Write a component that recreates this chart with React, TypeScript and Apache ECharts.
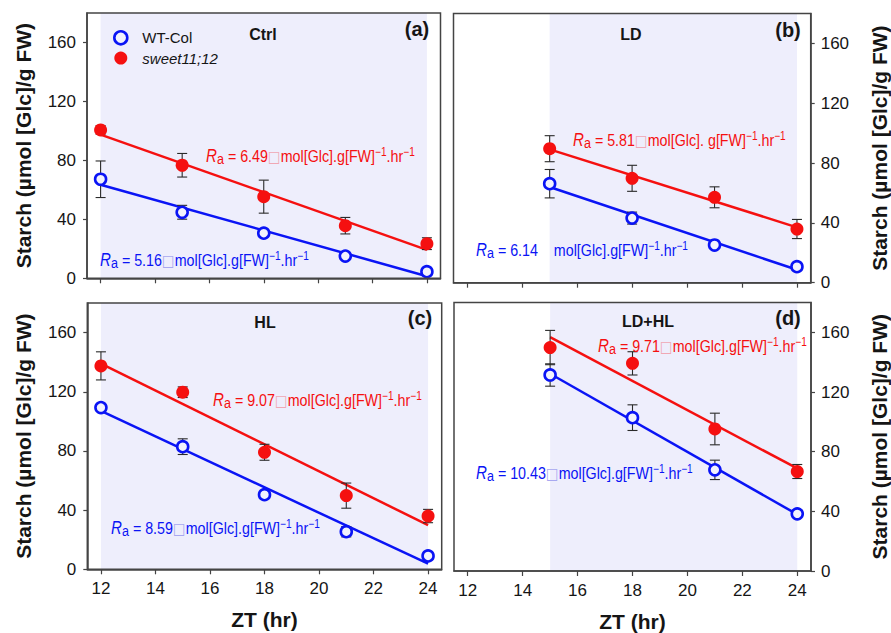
import React, { useEffect, useRef } from "react";
import * as echarts from "echarts";

// Sampling times (ZT, hours)
const ZT_FULL = [12, 15, 18, 21, 24];
const ZT_LATE = [15, 18, 21, 24];
const X_TICKS = [12, 14, 16, 18, 20, 22, 24];
const Y_TICKS = [0, 40, 80, 120, 160];

// Ctrl
const ctrlWt = [67.2, 44.8, 30.6, 15.1, 4.5];
const ctrlWtErr = [12.4, 4.7, 2.0, 2.0, 1.5];
const ctrlSweet = [100.7, 76.7, 55.4, 35.7, 23.5];
const ctrlSweetErr = [2.9, 8.0, 11.2, 5.6, 4.0];
// LD
const ldWt = [66.2, 43.2, 25.2, 10.7];
const ldWtErr = [9.5, 4.0, 1.5, 1.0];
const ldSweet = [89.6, 69.8, 57.1, 35.9];
const ldSweetErr = [8.7, 8.7, 7.0, 6.4];
// HL
const hlWt = [109.3, 82.9, 50.4, 25.4, 9.0];
const hlWtErr = [2.0, 5.3, 2.0, 3.5, 1.0];
const hlSweet = [137.5, 119.7, 79.1, 49.8, 36.0];
const hlSweetErr = [9.5, 3.6, 5.4, 8.5, 4.5];
// LD+HL
const ldhlWt = [131.4, 102.8, 67.8, 38.3];
const ldhlWtErr = [7.5, 8.6, 6.5, 2.0];
const ldhlSweet = [149.8, 139.2, 95.2, 66.7];
const ldhlSweetErr = [11.5, 7.8, 10.6, 4.7];

const PANEL_TITLES = ["Ctrl", "LD", "HL", "LD+HL"];
const PANEL_TAGS = ["(a)", "(b)", "(c)", "(d)"];
const RA_WT = ["5.16", "6.14", "8.59", "10.43"];
const RA_SWEET = ["6.49", "5.81", "9.07", "9.71"];

const WT_NAME = "WT-Col";
const SWEET_NAME = "sweet11;12";
const Y_NAME = "Starch (µmol [Glc]/g FW)";
const X_NAME = "ZT (hr)";

const FONT = "'Liberation Sans', Arial, Helvetica, sans-serif";
const BLUE = "#0a14f5";
const RED = "#f51010";
const SHADE = "#eeeefc";
const AXIS = "#444";
const INK = "#151515";

const panels = [
  { zt: ZT_FULL, wt: ctrlWt, wtErr: ctrlWtErr, sw: ctrlSweet, swErr: ctrlSweetErr },
  { zt: ZT_LATE, wt: ldWt, wtErr: ldWtErr, sw: ldSweet, swErr: ldSweetErr },
  { zt: ZT_FULL, wt: hlWt, wtErr: hlWtErr, sw: hlSweet, swErr: hlSweetErr },
  { zt: ZT_LATE, wt: ldhlWt, wtErr: ldhlWtErr, sw: ldhlSweet, swErr: ldhlSweetErr },
];

const grids = [
  { left: 87, top: 13, width: 353.5, height: 265.3 },
  { left: 453.5, top: 13.5, width: 357.2, height: 269.2 },
  { left: 87.3, top: 303, width: 354.4, height: 266.3 },
  { left: 454, top: 302.5, width: 357, height: 268.5 },
];

// Least-squares line through the points, evaluated at the first and last time
function fitLine(xs: number[], ys: number[]) {
  const n = xs.length;
  const mx = xs.reduce((a, b) => a + b, 0) / n;
  const my = ys.reduce((a, b) => a + b, 0) / n;
  let sxy = 0;
  let sxx = 0;
  for (let i = 0; i < n; i++) {
    sxy += (xs[i] - mx) * (ys[i] - my);
    sxx += (xs[i] - mx) * (xs[i] - mx);
  }
  const slope = sxy / sxx;
  const x0 = xs[0];
  const x1 = xs[n - 1];
  return [
    [x0, my + slope * (x0 - mx)],
    [x1, my + slope * (x1 - mx)],
  ];
}

function errorBarItem(_params: any, api: any) {
  const x = api.value(0);
  const top = api.coord([x, api.value(2)]);
  const bot = api.coord([x, api.value(1)]);
  const hw = 5;
  const style = { stroke: "#2a2a2a", lineWidth: 1.1 };
  return {
    type: "group",
    children: [
      { type: "line", shape: { x1: top[0], y1: top[1], x2: bot[0], y2: bot[1] }, style },
      { type: "line", shape: { x1: top[0] - hw, y1: top[1], x2: top[0] + hw, y2: top[1] }, style },
      { type: "line", shape: { x1: bot[0] - hw, y1: bot[1], x2: bot[0] + hw, y2: bot[1] }, style },
    ],
  };
}

function raRich(color: string, boxColor: string) {
  return {
    t: { fill: color, fontSize: 17, fontFamily: FONT, lineHeight: 20 },
    R: { fill: color, fontSize: 18, fontStyle: "italic", fontFamily: FONT, lineHeight: 20 },
    s: { fill: color, fontSize: 15, fontFamily: FONT, lineHeight: 4, verticalAlign: "bottom" },
    p: { fill: color, fontSize: 12, fontFamily: FONT, lineHeight: 4, verticalAlign: "top" },
    b: { fill: boxColor, fontSize: 16, fontFamily: "'DejaVu Sans', sans-serif", lineHeight: 20 },
  };
}

function raText(value: string, unitSep: string, showBox: boolean) {
  const gap = showBox ? "{b|□}" : "{t|    }";
  return `{R|R}{s|a}{t| = ${value}}${gap}{t|mol[Glc].${unitSep}g[FW]}{p|−1}{t|.hr}{p|−1}`;
}

// Annotation anchors: [x, y] of the left/middle of each rate label
const RA_SWEET_POS = [
  [206, 156],
  [573, 140],
  [213, 400],
  [598, 346],
];
const RA_WT_POS = [
  [100, 260],
  [476, 250],
  [111, 528],
  [476, 473],
];
const TITLE_POS = [
  [263, 34],
  [631, 34],
  [265, 322],
  [648, 321],
];
const TAG_POS = [
  [417, 29],
  [788, 30],
  [420, 318],
  [788, 318],
];

export default function App() {
  const ref = useRef<HTMLDivElement>(null);

  useEffect(() => {
    if (!ref.current) return;
    const chart = echarts.init(ref.current, null, { renderer: "svg" });

    const xAxis = panels.map((_, i) => {
      const bottomRow = i >= 2;
      return {
        type: "value",
        gridIndex: i,
        min: 11.5,
        max: 24.5,
        z: 10,
        axisLine: { show: true, lineStyle: { color: AXIS, width: 1.5 } },
        axisTick: { show: true, length: 5, customValues: X_TICKS, lineStyle: { color: AXIS, width: 1.2 } },
        axisLabel: {
          show: bottomRow,
          customValues: X_TICKS,
          fontSize: 17,
          fontFamily: FONT,
          color: INK,
          margin: 11,
        },
        splitLine: { show: false },
        name: bottomRow ? X_NAME : "",
        nameLocation: "middle",
        nameGap: 40,
        nameTextStyle: { fontSize: 21, fontWeight: "bold", fontFamily: FONT, color: INK },
      };
    });

    const yAxis = panels.map((_, i) => {
      const right = i % 2 === 1;
      return {
        type: "value",
        gridIndex: i,
        min: 0,
        max: 180,
        position: right ? "right" : "left",
        z: 10,
        axisLine: { show: true, lineStyle: { color: AXIS, width: 1.5 } },
        axisTick: { show: true, length: 4, customValues: Y_TICKS, lineStyle: { color: AXIS, width: 1.2 } },
        axisLabel: {
          customValues: Y_TICKS,
          fontSize: 17,
          fontFamily: FONT,
          color: INK,
          margin: right ? 10 : 11,
        },
        splitLine: { show: false },
        name: Y_NAME,
        nameLocation: "middle",
        nameRotate: 90,
        nameGap: right ? 58 : 53,
        nameTextStyle: { fontSize: 21, fontWeight: "bold", fontFamily: FONT, color: INK },
      };
    });

    const series: any[] = [];
    panels.forEach((p, i) => {
      const first = p.zt[0];
      const last = p.zt[p.zt.length - 1];
      // Light-period shading and fitted lines
      series.push({
        type: "line",
        name: SWEET_NAME,
        xAxisIndex: i,
        yAxisIndex: i,
        data: fitLine(p.zt, p.sw),
        showSymbol: false,
        symbol: "none",
        lineStyle: { color: RED, width: 2.5 },
        z: 2,
        markArea: {
          silent: true,
          itemStyle: { color: SHADE },
          data: [[{ xAxis: first }, { xAxis: last }]],
        },
      });
      series.push({
        type: "line",
        name: WT_NAME,
        xAxisIndex: i,
        yAxisIndex: i,
        data: fitLine(p.zt, p.wt),
        showSymbol: false,
        symbol: "none",
        lineStyle: { color: BLUE, width: 2.5 },
        z: 2,
      });
      // Error bars (mean ± error)
      series.push({
        type: "custom",
        name: "err-wt-" + i,
        xAxisIndex: i,
        yAxisIndex: i,
        renderItem: errorBarItem,
        encode: { x: 0, y: [1, 2] },
        data: p.zt.map((x, k) => [x, p.wt[k] - p.wtErr[k], p.wt[k] + p.wtErr[k]]),
        z: 3,
      });
      series.push({
        type: "custom",
        name: "err-sw-" + i,
        xAxisIndex: i,
        yAxisIndex: i,
        renderItem: errorBarItem,
        encode: { x: 0, y: [1, 2] },
        data: p.zt.map((x, k) => [x, p.sw[k] - p.swErr[k], p.sw[k] + p.swErr[k]]),
        z: 3,
      });
      // Means
      series.push({
        type: "scatter",
        name: WT_NAME,
        xAxisIndex: i,
        yAxisIndex: i,
        data: p.zt.map((x, k) => [x, p.wt[k]]),
        symbol: "circle",
        symbolSize: 11,
        itemStyle: { color: "#f2f2fd", borderColor: BLUE, borderWidth: 2.6, opacity: 1 },
        z: 4,
      });
      series.push({
        type: "scatter",
        name: SWEET_NAME,
        xAxisIndex: i,
        yAxisIndex: i,
        data: p.zt.map((x, k) => [x, p.sw[k]]),
        symbol: "circle",
        symbolSize: 13,
        itemStyle: { color: RED, opacity: 1 },
        z: 4,
      });
    });

    const graphic: any[] = [];
    panels.forEach((_, i) => {
      graphic.push({
        type: "text",
        x: TITLE_POS[i][0],
        y: TITLE_POS[i][1],
        z: 20,
        style: {
          text: PANEL_TITLES[i],
          fill: INK,
          font: `bold 16px ${FONT}`,
          textAlign: "center",
          textVerticalAlign: "middle",
          align: "center",
          verticalAlign: "middle",
        },
      });
      graphic.push({
        type: "text",
        x: TAG_POS[i][0],
        y: TAG_POS[i][1],
        z: 20,
        style: {
          text: PANEL_TAGS[i],
          fill: INK,
          font: `bold 20px ${FONT}`,
          textAlign: "center",
          textVerticalAlign: "middle",
          align: "center",
          verticalAlign: "middle",
        },
      });
      graphic.push({
        type: "text",
        x: RA_SWEET_POS[i][0],
        y: RA_SWEET_POS[i][1],
        scaleX: 0.84,
        z: 20,
        style: {
          text: raText(RA_SWEET[i], i === 1 ? " " : "", true),
          rich: raRich(RED, "#f0a8b4"),
          fill: RED,
          font: `17px ${FONT}`,
          textAlign: "left",
          textVerticalAlign: "middle",
          align: "left",
          verticalAlign: "middle",
        },
      });
      graphic.push({
        type: "text",
        x: RA_WT_POS[i][0],
        y: RA_WT_POS[i][1],
        scaleX: 0.84,
        z: 20,
        style: {
          text: raText(RA_WT[i], "", i !== 1),
          rich: raRich(BLUE, "#a8a8f0"),
          fill: BLUE,
          font: `17px ${FONT}`,
          textAlign: "left",
          textVerticalAlign: "middle",
          align: "left",
          verticalAlign: "middle",
        },
      });
    });

    chart.setOption({
      animation: false,
      backgroundColor: "#ffffff",
      grid: grids.map((g) => ({
        ...g,
        show: true,
        z: 10,
        backgroundColor: "transparent",
        borderColor: AXIS,
        borderWidth: 1.5,
      })),
      xAxis,
      yAxis,
      legend: {
        data: [
          {
            name: WT_NAME,
            icon: "circle",
            itemStyle: { color: "#f2f2fd", borderColor: BLUE, borderWidth: 2.6 },
          },
          { name: SWEET_NAME, icon: "circle", itemStyle: { color: RED } },
        ],
        orient: "vertical",
        left: 108,
        top: 25,
        itemWidth: 13,
        itemHeight: 13,
        itemGap: 5,
        selectedMode: false,
        formatter: (name: string) => (name === SWEET_NAME ? `{i|${name}}` : `{n|${name}}`),
        textStyle: {
          fontSize: 15,
          fontFamily: FONT,
          color: INK,
          rich: {
            n: { fontSize: 15, fontFamily: FONT, color: INK, padding: [0, 0, 0, 10] },
            i: { fontSize: 15, fontFamily: FONT, color: INK, fontStyle: "italic", padding: [0, 0, 0, 10] },
          },
        },
      },
      graphic,
      series,
    });

    return () => chart.dispose();
  }, []);

  return (
    <div
      ref={ref}
      style={{ position: "fixed", left: 0, top: 0, width: 891, height: 633, background: "#fff" }}
    />
  );
}
